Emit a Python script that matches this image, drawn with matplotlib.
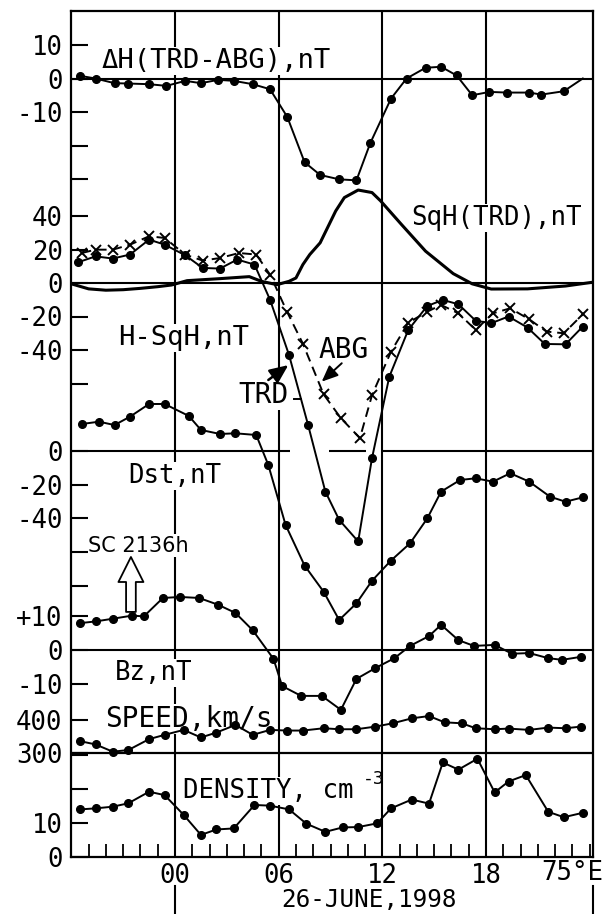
import numpy as np
import matplotlib
matplotlib.use('Agg')
import matplotlib.pyplot as plt

# time axis: hours from 00 UT, 26 June 1998 (negative = 25 June)

# Delta H (TRD-ABG), nT
dh_t = [-5.5, -4.6, -3.5, -2.7, -1.5, -0.5, 0.6, 1.5, 2.5, 3.4, 4.5, 5.5, 6.5, 7.5, 8.4,
        9.5, 10.5, 11.3, 12.5, 13.4, 14.5, 15.4, 16.3, 17.2, 18.2, 19.2, 20.5, 21.2, 22.5, 23.6]
dh = [0.8, 0.0, -1.4, -1.5, -1.7, -2.2, -0.7, -1.4, -0.4, -0.7, -1.7, -3.2, -11.5, -25.0, -28.8,
      -30.1, -30.4, -19.3, -6.0, 0.0, 3.2, 3.5, 0.9, -5.0, -4.0, -4.2, -4.2, -4.8, -3.8, 0.0]

# SqH (TRD), nT
sq_t = [-6.0, -5.0, -4.0, -3.0, -2.0, -1.0, -0.2, 0.7, 2.6, 4.3, 5.0, 5.9, 6.6, 7.0, 7.4, 7.8,
        8.4, 9.3, 9.8, 10.6, 11.4, 11.9, 13.1, 14.5, 16.1, 17.2, 18.3, 20.4, 22.6, 24.2]
sq = [-0.5, -3.5, -4.3, -4.0, -3.2, -2.2, -1.2, 1.4, 2.6, 3.8, 1.0, -1.0, 1.0, 3.0, 11.0, 17.0,
      24.0, 43.0, 51.0, 55.5, 54.0, 49.0, 35.0, 19.0, 5.6, -0.5, -3.6, -3.5, -1.8, 0.5]

# H - SqH, nT
trd_t = [-5.6, -4.6, -3.6, -2.6, -1.5, -0.6, 0.6, 1.6, 2.6, 3.6, 4.6, 5.5, 6.6, 7.7, 8.7,
         9.5, 10.6, 11.4, 12.4, 13.5, 14.6, 15.5, 16.4, 17.4, 18.3, 19.3, 20.4, 21.4, 22.6, 23.6]
trd = [12.4, 15.9, 14.6, 17.0, 25.9, 22.9, 16.5, 9.0, 8.6, 14.0, 11.0, -10.0, -43.0, -84.7, -124.5,
       -141.4, -154.3, -104.6, -56.0, -28.0, -13.7, -10.1, -12.7, -22.5, -24.0, -20.0, -26.6, -36.4, -36.6, -26.0]
abg_t = [-5.4, -4.6, -3.6, -2.6, -1.5, -0.6, 0.6, 1.6, 2.6, 3.7, 4.7, 5.5, 6.5, 7.4, 8.6,
         9.6, 10.7, 11.4, 12.5, 13.5, 14.6, 15.4, 16.4, 17.4, 18.4, 19.4, 20.5, 21.5, 22.5, 23.6]
abg = [17.9, 19.9, 19.9, 22.9, 27.9, 26.9, 16.9, 13.4, 14.9, 17.9, 17.0, 5.0, -17.5, -36.2, -66.5,
       -80.7, -92.6, -67.0, -41.0, -23.7, -17.1, -13.1, -18.1, -28.0, -18.1, -15.1, -21.7, -29.0, -30.0, -18.7]

# Dst, nT
dst_t = [-5.4, -4.4, -3.5, -2.6, -1.5, -0.6, 0.8, 1.5, 2.6, 3.5, 4.7, 5.4, 6.4, 7.5, 8.6,
         9.5, 10.5, 11.4, 12.5, 13.6, 14.6, 15.4, 16.5, 17.4, 18.4, 19.4, 20.5, 21.7, 22.6, 23.6]
dst = [16.0, 17.4, 15.4, 20.4, 27.9, 27.9, 20.8, 12.5, 10.1, 10.5, 9.5, -8.3, -43.9, -68.0, -83.5,
       -100.3, -90.4, -77.0, -65.0, -54.8, -40.0, -24.1, -17.2, -16.2, -18.2, -13.2, -18.2, -27.1, -30.1, -27.5]

# IMF Bz, nT
bz_t = [-5.5, -4.6, -3.6, -2.5, -1.8, -0.7, 0.3, 1.4, 2.5, 3.5, 4.5, 5.7, 6.2, 7.3, 8.5,
        9.6, 10.5, 11.6, 12.7, 13.6, 14.7, 15.4, 16.4, 17.3, 18.5, 19.5, 20.5, 21.6, 22.4, 23.5]
bz = [7.9, 8.4, 9.2, 10.1, 9.9, 15.3, 15.6, 15.3, 13.3, 10.9, 5.8, -2.6, -10.6, -13.5, -13.5,
      -17.6, -8.5, -5.3, -2.4, 1.2, 4.1, 7.4, 2.9, 1.2, 1.5, -1.1, -0.9, -2.4, -2.9, -2.0]

# solar wind speed, km/s
sp_t = [-5.5, -4.6, -3.6, -2.7, -1.5, -0.6, 0.5, 1.5, 2.4, 3.5, 4.5, 5.5, 6.5, 7.4, 8.6,
        9.5, 10.5, 11.6, 12.6, 13.7, 14.7, 15.6, 16.6, 17.4, 18.5, 19.3, 20.5, 21.6, 22.6, 23.5]
sp = [336, 326, 304, 309, 342, 355, 370, 347, 362, 385, 355, 370, 368, 368, 375,
      372, 372, 380, 390, 405, 412, 393, 390, 375, 372, 374, 370, 377, 375, 380]

# solar wind density, cm-3
dn_t = [-5.5, -4.6, -3.6, -2.7, -1.5, -0.6, 0.5, 1.5, 2.4, 3.4, 4.6, 5.5, 6.6, 7.6, 8.7,
        9.7, 10.6, 11.7, 12.5, 13.7, 14.7, 15.5, 16.4, 17.5, 18.5, 19.3, 20.3, 21.6, 22.5, 23.6]
dn = [14.0, 14.3, 14.8, 15.8, 19.2, 18.2, 12.4, 6.5, 8.1, 8.4, 15.3, 15.1, 14.0, 9.8, 7.4,
      8.7, 8.8, 9.9, 14.3, 16.9, 15.7, 27.8, 25.7, 28.9, 19.0, 22.2, 24.1, 13.3, 11.7, 13.0]

hour_ticks = [0, 6, 12, 18]
hour_labels = ['00', '06', '12', '18']

plt.rcParams['font.family'] = ['DejaVu Sans Mono', 'DejaVu Sans']
plt.rcParams['axes.unicode_minus'] = False

# layout in pixels of a 610x914 figure
W, H = 610, 914
L, R, T, B = 71, 593, 11, 857
PXH = 17.28                      # pixels per hour, 00 at x=175
X0, X1 = (L - 175) / PXH, (R - 175) / PXH

fig = plt.figure(figsize=(W / 100, H / 100), dpi=100)
rect = [L / W, 1 - B / H, (R - L) / W, (B - T) / H]


def frac(py):
    return (B - py) / (B - T)


fr = fig.add_axes(rect)
fr.set_xlim(X0, X1)
fr.set_ylim(0, 1)
fr.set_yticks([])
for s in fr.spines.values():
    s.set_linewidth(1.6)
fr.set_xticks(hour_ticks)
fr.set_xticklabels(hour_labels)
fr.set_xticks(range(-5, 25), minor=True)
fr.tick_params(axis='x', which='both', direction='in', length=9.5, width=1.3,
               labelsize=18.5, pad=4)
for h in hour_ticks:
    fr.axvline(h, color='k', lw=1.5, zorder=1)
fr.text(23.0, -0.004, '75°E', ha='center', va='top', fontsize=18.5)
fr.text(11.2, frac(900), '26-JUNE,1998', ha='center', va='center', fontsize=17.5)
for xx in (0, X1):
    fr.plot([xx, xx], [frac(886), frac(913)], color='k', lw=1.5, clip_on=False)


def panel(zero, scale, ticks, labels):
    ax = fig.add_axes(rect, label='p%d' % zero)
    ax.patch.set_visible(False)
    ax.set_xlim(X0, X1)
    ax.set_ylim((zero - B) / scale, (zero - T) / scale)
    for s in ax.spines.values():
        s.set_visible(False)
    ax.set_xticks([])
    ax.set_yticks(ticks)
    ax.set_yticklabels(labels)
    ax.tick_params(axis='y', direction='in', length=12, width=1.5, pad=6, labelsize=18.5)
    return ax


def label(ax, x, y, s, size=18.5):
    fr.text(x, y, s, transform=ax.transData, fontsize=size, ha='left', va='baseline',
            zorder=3, bbox=dict(fc='white', ec='none', pad=1.0))


LW = 1.4
dot = dict(color='k', lw=LW, marker='o', ms=5.5, zorder=4)

# Delta H
a1 = panel(78.5, 3.35, [10, 0, -10, -20, -30], ['10', '0', '-10', '', ''])
a1.axhline(0, color='k', lw=1.5)
a1.plot(dh_t, dh, color='k', lw=LW, zorder=4)
a1.plot(dh_t[:-1], dh[:-1], 'o', color='k', ms=5.5, zorder=4)
label(a1, -4.28, 3.1, 'ΔH(TRD-ABG),nT', 19.5)

# SqH and H-SqH
a2 = panel(283, 1.675, [40, 20, 0, -20, -40, -60], ['40', '20', '0', '-20', '-40', ''])
a2.axhline(0, color='k', lw=1.5)
a2.plot(sq_t, sq, color='k', lw=2.2, zorder=4)
a2.plot(trd_t, trd, **dot)
a2.plot(abg_t, abg, color='k', lw=LW, ls=(0, (5, 3)), marker='x', ms=7, mew=1.4, zorder=4)
label(a2, 13.66, 34.6, 'SqH(TRD),nT', 18.5)
label(a2, -3.3, -37, 'H-SqH,nT', 19.5)
label(a2, 8.3, -44.8, 'ABG', 20)
label(a2, 3.65, -71.6, 'TRD', 20)
a2.plot([6.89, 7.29], [-69, -69], color='k', lw=LW)
a2.annotate('', xy=(6.56, -49), xytext=(5.4, -57.9),
            arrowprops=dict(arrowstyle='-|>,head_length=0.8,head_width=0.35', color='k',
                            lw=1.8, shrinkA=0, shrinkB=0, mutation_scale=14))
a2.annotate('', xy=(8.49, -58.9), xytext=(9.65, -47.9),
            arrowprops=dict(arrowstyle='-|>,head_length=0.7,head_width=0.3', color='k',
                            lw=1.4, shrinkA=0, shrinkB=0, mutation_scale=14))

# Dst
a3 = panel(451, 1.685, [0, -20, -40, -60, -80], ['0', '-20', '-40', '', ''])
a3.hlines([0, 0, 0], [X0, 8.93, 11.98], [6.67, 11.07, X1], color='k', lw=1.5)
a3.plot(dst_t, dst, **dot)
label(a3, -2.72, -19, 'Dst,nT', 18.5)
fr.text(-5.03, -59.9, 'SC 2136h', transform=a3.transData, fontsize=15, family='DejaVu Sans',
        ha='left', va='baseline', zorder=3, bbox=dict(fc='white', ec='none', pad=1.0))
a3.annotate('', xy=(-2.55, -62.9), xytext=(-2.55, -95.5),
            arrowprops=dict(arrowstyle='simple,head_length=0.9,head_width=0.9,tail_width=0.35',
                            fc='white', ec='k', lw=1.3, shrinkA=0, shrinkB=0, mutation_scale=20))

# Bz
a4 = panel(650, 3.4, [10, 0, -10], ['+10', '0', '-10'])
a4.axhline(0, color='k', lw=1.5)
a4.plot(bz_t, bz, **dot)
label(a4, -3.5, -8.8, 'Bz,nT', 18.5)

# speed
a5 = panel(852, 0.33, [400, 300], ['400', '300'])
a5.axhline(300, color='k', lw=1.6)
a5.plot(sp_t, sp, **dot)
label(a5, -4.07, 378.8, 'SPEED,km/s', 20)

# density
a6 = panel(857, 3.4, [30, 20, 10, 0], ['', '', '10', '0'])
a6.plot(dn_t, dn, **dot)
label(a6, 0.45, 17.4, 'DENSITY, cm', 18.5)
fr.text(10.85, 21.6, '-3', transform=a6.transData, fontsize=13, ha='left', va='baseline', zorder=3)

fig.savefig('out.png', dpi=100)
